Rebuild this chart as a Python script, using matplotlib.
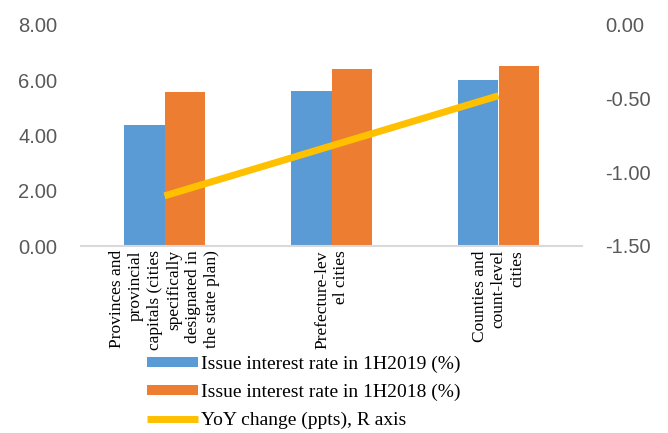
import matplotlib
matplotlib.use("Agg")
import matplotlib.pyplot as plt
import numpy as np

# data
categories = ["Provinces and\nprovincial\ncapitals (cities\nspecifically\ndesignated in\nthe state plan)",
              "Prefecture-lev\nel cities",
              "Counties and\ncount-level\ncities"]
rate_2019 = [4.38, 5.60, 6.00]
rate_2018 = [5.56, 6.40, 6.50]
yoy_change = [-1.16, -0.82, -0.48]

blue = "#5B9BD5"
orange = "#ED7D31"
yellow = "#FFC000"
grey = "#595959"

fig = plt.figure(figsize=(6.68, 4.33), dpi=100)
ax = fig.add_axes([81/668, 1-246/433, 501/668, 221/433])
ax2 = ax.twinx()

x = np.arange(len(categories))
w = 0.24
ax.bar(x - w/2, rate_2019, w, color=blue, label="Issue interest rate in 1H2019 (%)", zorder=2)
ax.bar(x + w/2, rate_2018, w, color=orange, label="Issue interest rate in 1H2018 (%)", zorder=2)
ax2.plot(x, yoy_change, color=yellow, lw=5, solid_capstyle="butt", label="YoY change (ppts), R axis")

ax.set_xlim(-0.5, 2.5)
ax.set_ylim(0, 8)
ax.set_yticks([0, 2, 4, 6, 8])
ax.set_yticklabels(["%.2f" % v for v in [0, 2, 4, 6, 8]])
ax2.set_ylim(-1.5, 0)
ax2.set_yticks([-1.5, -1.0, -0.5, 0.0])
ax2.set_yticklabels(["%.2f" % v for v in [-1.5, -1.0, -0.5, 0.0]])

for a in (ax, ax2):
    for s in ["top", "left", "right", "bottom"]:
        a.spines[s].set_visible(False)
ax.spines["bottom"].set_visible(True)
ax.spines["bottom"].set_color("#D9D9D9")
ax.spines["bottom"].set_linewidth(1.5)

ax.tick_params(axis="y", length=0, pad=17, labelsize=14.5, labelcolor=grey)
ax2.tick_params(axis="y", length=0, pad=16.5, labelsize=14.5, labelcolor=grey)
for lab in ax.get_yticklabels() + ax2.get_yticklabels():
    lab.set_family("Liberation Sans")

ax.set_xticks(x)
ax.set_xticklabels(categories, rotation=90, family="Liberation Serif", fontsize=12.5,
                   va="top", ha="center", multialignment="right", linespacing=1.25)
ax.tick_params(axis="x", length=0, pad=3)

h1, l1 = ax.get_legend_handles_labels()
h2, l2 = ax2.get_legend_handles_labels()
fig.legend(h1 + h2, l1 + l2, loc="upper left", bbox_to_anchor=(147/668, 1-356/433),
           frameon=False, prop={"family": "Liberation Serif", "size": 14},
           handlelength=2.6, handleheight=0.4, handletextpad=0.2,
           labelspacing=0.53, borderpad=0, borderaxespad=0)

fig.savefig("out.png", dpi=100)
